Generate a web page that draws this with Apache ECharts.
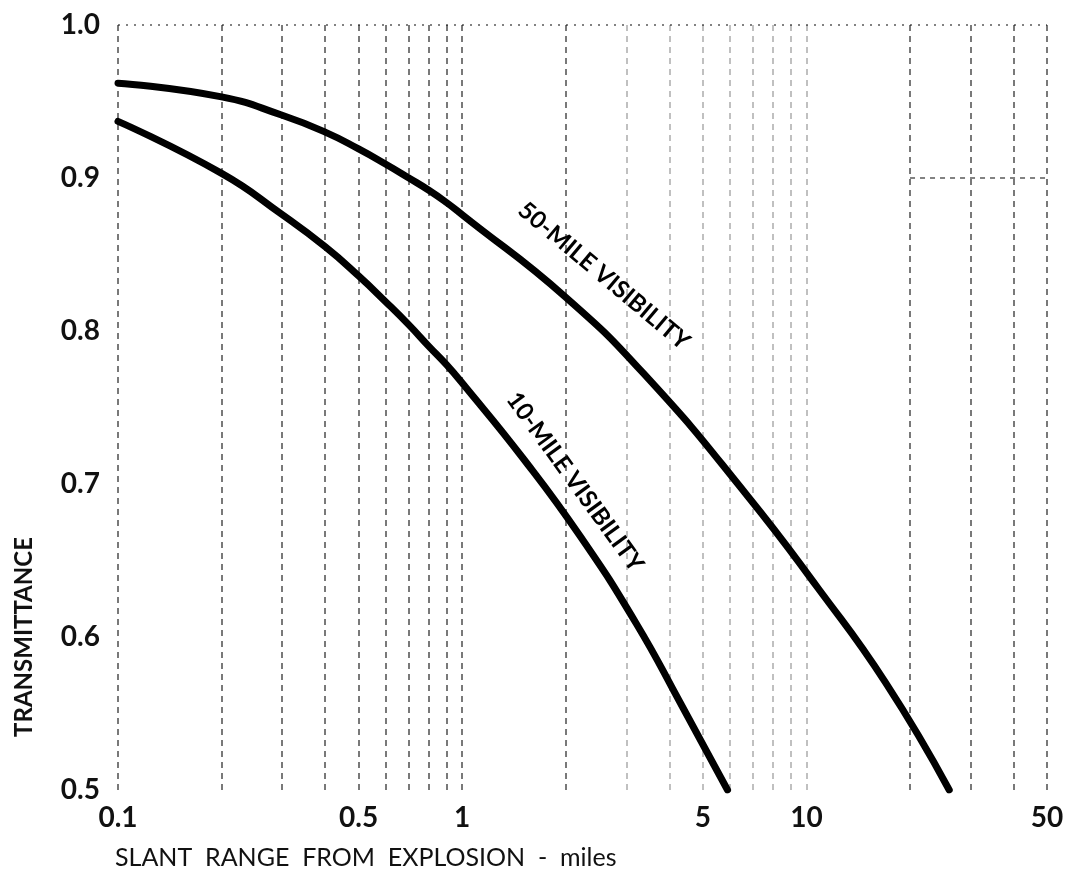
<!DOCTYPE html>
<html>
<head>
<meta charset="utf-8">
<script src="https://cdn.jsdelivr.net/npm/echarts@6/dist/echarts.min.js"></script>
<style>
  html, body { margin: 0; padding: 0; background: #fff; }
  #chartContainer { width: 1079px; height: 878px; }
</style>
</head>
<body>
<div id="chartContainer"></div>
<script>
// slant range (miles) and transmittance
var range50 = [0.1, 0.2, 0.3, 0.4, 0.5, 0.6, 0.7, 0.8, 0.9, 1.0, 2.0, 3.5, 6.7, 10.8, 17, 26];
var trans50 = [0.962, 0.953, 0.941, 0.930, 0.919, 0.909, 0.900, 0.892, 0.884, 0.876, 0.822, 0.768, 0.693, 0.632, 0.570, 0.50];
var range10 = [0.1, 0.2, 0.3, 0.4, 0.5, 0.6, 0.7, 0.8, 0.9, 1.0, 1.5, 2.2, 3.2, 4.3, 5.9];
var trans10 = [0.937, 0.903, 0.876, 0.855, 0.836, 0.819, 0.804, 0.790, 0.778, 0.766, 0.717, 0.666, 0.609, 0.557, 0.50];

var xTickLabels = [0.1, 0.5, 1, 5, 10, 50];
var gridStrong = [0.1, 0.2, 0.3, 0.4, 0.5, 0.6, 0.7, 0.8, 0.9, 1, 2, 20, 30, 40, 50];
var gridFaint = [3, 4, 5, 6, 7, 8, 9, 10];

function pairs(xs, ys) {
  return xs.map(function (x, i) { return [x, ys[i]]; });
}

var chart = echarts.init(document.getElementById('chartContainer'));

var gridLines = gridStrong.map(function (v) {
  return { xAxis: v, lineStyle: { opacity: 0.75 } };
}).concat(gridFaint.map(function (v) {
  return { xAxis: v, lineStyle: { opacity: 0.35 } };
}));
gridLines.push({ yAxis: 1.0, lineStyle: { type: [2, 6], opacity: 0.7 } });
gridLines.push([{ coord: [20, 0.9], lineStyle: { type: [5, 5], opacity: 0.7 } }, { coord: [50, 0.9] }]);

var curveStyle = { color: '#000', width: 7, cap: 'round', join: 'round' };

chart.setOption({
  backgroundColor: '#fff',
  animation: false,
  grid: { left: 118, right: 32, top: 25, bottom: 88, outerBoundsMode: 'none' },
  xAxis: {
    type: 'log',
    logBase: 10,
    min: 0.1,
    max: 50,
    axisLine: { show: false },
    axisTick: { show: false },
    splitLine: { show: false },
    axisLabel: {
      customValues: xTickLabels,
      margin: 14,
      color: '#111',
      fontFamily: 'Lato',
      fontWeight: 'bold',
      fontSize: 28,
      formatter: function (v) { return String(+(+v).toPrecision(6)); }
    }
  },
  yAxis: {
    type: 'value',
    min: 0.5,
    max: 1.0,
    interval: 0.1,
    axisLine: { show: false },
    axisTick: { show: false },
    splitLine: { show: false },
    axisLabel: {
      margin: 18,
      color: '#111',
      fontFamily: 'Lato',
      fontWeight: 'bold',
      fontSize: 28,
      formatter: function (v) { return (+v).toFixed(1); }
    }
  },
  series: [{
    name: '50-MILE VISIBILITY',
    type: 'line',
    data: pairs(range50, trans50),
    smooth: 0.5,
    showSymbol: false,
    lineStyle: curveStyle,
    z: 3,
    markLine: {
      silent: true,
      symbol: 'none',
      label: { show: false },
      lineStyle: { color: '#111', width: 1.5, type: [6, 5] },
      data: gridLines,
      z: 1
    }
  }, {
    name: '10-MILE VISIBILITY',
    type: 'line',
    data: pairs(range10, trans10),
    smooth: 0.5,
    showSymbol: false,
    lineStyle: curveStyle,
    z: 3
  }],
  graphic: [{
    type: 'text',
    x: 604, y: 276,
    rotation: -40 * Math.PI / 180,
    style: {
      text: '50-MILE VISIBILITY',
      font: 'bold 24px Lato',
      fill: '#000',
      align: 'center',
      verticalAlign: 'middle'
    }
  }, {
    type: 'text',
    x: 575, y: 482,
    rotation: -54 * Math.PI / 180,
    style: {
      text: '10-MILE VISIBILITY',
      font: 'bold 24px Lato',
      fill: '#000',
      align: 'center',
      verticalAlign: 'middle'
    }
  }, {
    type: 'text',
    x: 24, y: 637,
    rotation: Math.PI / 2,
    style: {
      text: 'TRANSMITTANCE',
      font: 'bold 24px Lato',
      fill: '#111',
      align: 'center',
      verticalAlign: 'middle'
    }
  }, {
    type: 'text',
    x: 115, y: 858,
    style: {
      text: 'SLANT  RANGE  FROM  EXPLOSION  -  miles',
      font: '25px Lato',
      fill: '#111',
      align: 'left',
      verticalAlign: 'middle'
    }
  }]
});

window.addEventListener('resize', function () {
  chart.resize();
});
</script>
</body>
</html>
